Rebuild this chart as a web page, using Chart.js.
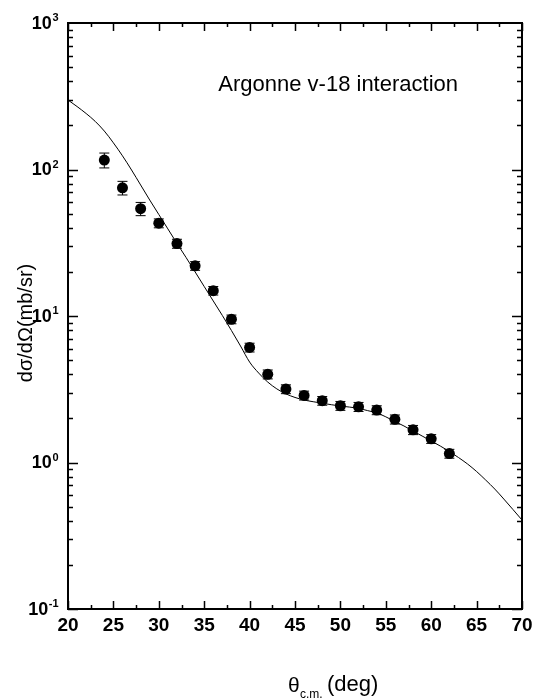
<!DOCTYPE html>
<html>
<head>
<meta charset="utf-8">
<script src="https://cdn.jsdelivr.net/npm/chart.js@4/dist/chart.umd.min.js"></script>
<style>
html,body{margin:0;padding:0;background:#fff;}
#wrap{width:535px;height:698px;}
</style>
</head>
<body>
<div id="wrap"><canvas id="c" width="535" height="698"></canvas></div>
<script>
// ---- data ----
const angles = [24,26,28,30,32,34,36,38,40,42,44,46,48,50,52,54,56,58,60,62];
const crossSection = [116,75,54,43,31.2,22.0,14.9,9.5,6.1,4.0,3.17,2.87,2.64,2.44,2.40,2.28,1.97,1.67,1.45,1.15];
const crossSectionErr = [13.5,8,5.6,3.0,2.2,1.5,1.0,0.65,0.42,0.28,0.22,0.2,0.18,0.17,0.17,0.16,0.14,0.12,0.1,0.08];
const theoryAngles = [20,21,22,23,24,25,26,27,28,29,30,31,32,33,34,35,36,37,38,39,40,41,42,43,44,45,46,47,48,49,50,51,52,53,54,55,56,57,58,59,60,61,62,63,64,65,66,67,68,69,70];
const theoryValues = [298,269,241,213,183,152,124,99.2,78.4,61.9,49.3,39.3,31.3,25.1,20.0,15.9,12.66,10.08,7.96,6.24,4.85,4.08,3.54,3.18,2.94,2.78,2.67,2.60,2.54,2.48,2.43,2.39,2.34,2.26,2.18,2.05,1.905,1.775,1.64,1.517,1.402,1.296,1.189,1.082,0.977,0.868,0.759,0.659,0.563,0.478,0.405];
const xTickValues = [20,25,30,35,40,45,50,55,60,65,70];
const yTickExponents = [-1,0,1,2,3];
const annotationText = "Argonne v-18 interaction";
const yTitle = "dσ/dΩ(mb/sr)";

const FONT = '"Liberation Sans", Arial, Helvetica, sans-serif';

const axesPlugin = {
  id: 'axesPlugin',
  beforeDatasetsDraw(chart) {
    const ctx = chart.ctx, xs = chart.scales.x, ys = chart.scales.y;
    ctx.save();
    ctx.strokeStyle = '#000';
    ctx.lineWidth = 1;
    angles.forEach((a, i) => {
      const px = xs.getPixelForValue(a);
      const top = ys.getPixelForValue(crossSection[i] + crossSectionErr[i]);
      const bot = ys.getPixelForValue(crossSection[i] - crossSectionErr[i]);
      ctx.beginPath();
      ctx.moveTo(px, top); ctx.lineTo(px, bot);
      ctx.moveTo(px - 5, top); ctx.lineTo(px + 5, top);
      ctx.moveTo(px - 5, bot); ctx.lineTo(px + 5, bot);
      ctx.stroke();
    });
    ctx.restore();
  },
  afterDraw(chart) {
    const ctx = chart.ctx, xs = chart.scales.x, ys = chart.scales.y;
    const a = chart.chartArea;
    ctx.save();
    ctx.strokeStyle = '#000';
    ctx.lineWidth = 2;
    ctx.strokeRect(a.left, a.top, a.right - a.left, a.bottom - a.top);
    ctx.lineWidth = 1.5;
    ctx.beginPath();
    // x ticks
    for (let v = xs.min; v <= xs.max + 1e-9; v += 2.5) {
      const px = Math.round(xs.getPixelForValue(v)) + 0.5;
      const major = Math.abs(v / 5 - Math.round(v / 5)) < 1e-6;
      const len = major ? 8 : 4;
      ctx.moveTo(px, a.bottom); ctx.lineTo(px, a.bottom - len);
      ctx.moveTo(px, a.top); ctx.lineTo(px, a.top + len);
    }
    // y ticks
    for (let e = -1; e < 3; e++) {
      for (let m = 1; m <= 9; m++) {
        const val = m * Math.pow(10, e);
        const py = Math.round(ys.getPixelForValue(val)) + 0.5;
        const len = m === 1 ? 10 : 5;
        ctx.moveTo(a.left, py); ctx.lineTo(a.left + len, py);
        ctx.moveTo(a.right, py); ctx.lineTo(a.right - len, py);
      }
    }
    ctx.stroke();

    // x tick labels
    ctx.fillStyle = '#000';
    ctx.font = 'bold 19px ' + FONT;
    ctx.textAlign = 'center';
    ctx.textBaseline = 'middle';
    xTickValues.forEach(v => {
      ctx.fillText(String(v), xs.getPixelForValue(v), a.bottom + 17);
    });

    // y tick labels with superscripts
    yTickExponents.forEach(e => {
      const py = ys.getPixelForValue(Math.pow(10, e));
      ctx.font = 'bold 18px ' + FONT;
      const wBase = ctx.measureText('10').width;
      ctx.font = 'bold 11px ' + FONT;
      const sup = e < 0 ? '-' + Math.abs(e) : String(e);
      const wSup = ctx.measureText(sup).width;
      const right = a.left - 10;
      const start = right - wBase - wSup;
      ctx.textAlign = 'left';
      ctx.textBaseline = 'middle';
      ctx.font = 'bold 18px ' + FONT;
      ctx.fillText('10', start, py + 1);
      ctx.font = 'bold 11px ' + FONT;
      ctx.fillText(sup, start + wBase + 0.5, py - 5);
    });

    // annotation
    ctx.font = '22px ' + FONT;
    ctx.textAlign = 'right';
    ctx.textBaseline = 'alphabetic';
    ctx.fillText(annotationText, xs.getPixelForValue(70) - 64, a.top + 68);

    // y title
    ctx.save();
    ctx.translate(32, (a.top + a.bottom) / 2 + 7);
    ctx.rotate(-Math.PI / 2);
    ctx.font = '20px ' + FONT;
    ctx.textAlign = 'center';
    ctx.textBaseline = 'alphabetic';
    ctx.fillText(yTitle, 0, 0);
    ctx.restore();

    // x title: θ c.m. (deg)
    const cx = (a.left + a.right) / 2;
    ctx.textAlign = 'left';
    ctx.textBaseline = 'alphabetic';
    ctx.font = '21px ' + FONT;
    ctx.fillText('θ', cx - 7, a.bottom + 83);
    ctx.font = '12px ' + FONT;
    ctx.fillText('c.m.', cx + 5, a.bottom + 89);
    ctx.font = '22px ' + FONT;
    ctx.fillText('(deg)', cx + 32, a.bottom + 82);
    ctx.restore();
  }
};

new Chart(document.getElementById('c'), {
  type: 'scatter',
  data: {
    datasets: [
      {
        label: 'Argonne v-18',
        data: theoryAngles.map((x, i) => ({x, y: theoryValues[i]})),
        showLine: true,
        borderColor: '#000',
        borderWidth: 1,
        pointRadius: 0,
        cubicInterpolationMode: 'monotone',
        fill: false
      },
      {
        label: 'data',
        data: angles.map((x, i) => ({x, y: crossSection[i]})),
        showLine: false,
        pointRadius: 5.5,
        pointBackgroundColor: '#000',
        pointBorderColor: '#000',
        pointBorderWidth: 0
      }
    ]
  },
  options: {
    responsive: false,
    animation: false,
    layout: { padding: { left: 68, right: 13, top: 23, bottom: 89 } },
    plugins: { legend: { display: false }, tooltip: { enabled: false } },
    scales: {
      x: { type: 'linear', min: 20, max: 70, display: false },
      y: { type: 'logarithmic', min: 0.1, max: 1000, display: false }
    }
  },
  plugins: [axesPlugin]
});
</script>
</body>
</html>
